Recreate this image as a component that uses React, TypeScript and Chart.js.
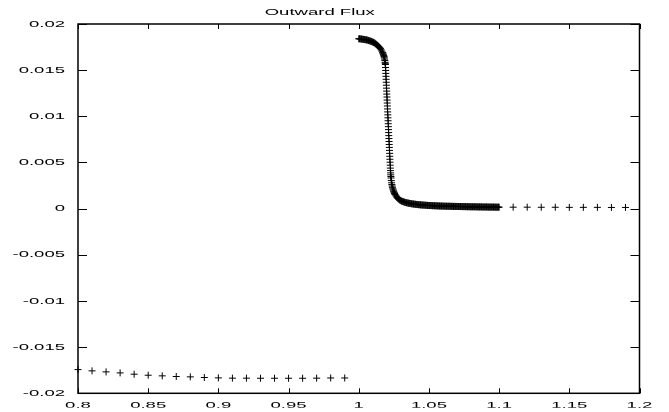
import { useEffect, useRef } from "react";
import { Chart, registerables } from "chart.js";

Chart.register(...registerables);

// ---- data ----
const leftX = [0.80, 0.81, 0.82, 0.83, 0.84, 0.85, 0.86, 0.87, 0.88, 0.89, 0.90, 0.91, 0.92, 0.93, 0.94, 0.95, 0.96, 0.97, 0.98, 0.99];
const leftY = [-0.01743, -0.01757, -0.01768, -0.01779, -0.01793, -0.01804, -0.01811, -0.01818, -0.01822, -0.01829, -0.01833, -0.01836, -0.01836, -0.01837, -0.01837, -0.01837, -0.01837, -0.01836, -0.01834, -0.01834];

const fluxTopX = [1.0000, 1.0005, 1.0010, 1.0015, 1.0020, 1.0025, 1.0030, 1.0035, 1.0040, 1.0045, 1.0050, 1.0055, 1.0060, 1.0065, 1.0070, 1.0075, 1.0080, 1.0085, 1.0090, 1.0095, 1.0100, 1.0105, 1.0110, 1.0115, 1.0120, 1.0125, 1.0130, 1.0135, 1.0140, 1.0145, 1.0150, 1.0155, 1.0160, 1.0165, 1.0170, 1.0172, 1.0175, 1.0178, 1.0180, 1.0182, 1.0184, 1.0186, 1.0188, 1.0189, 1.0190];
const fluxTopY = [0.01840, 0.01840, 0.01839, 0.01838, 0.01837, 0.01836, 0.01834, 0.01833, 0.01832, 0.01831, 0.01829, 0.01828, 0.01826, 0.01824, 0.01821, 0.01819, 0.01816, 0.01814, 0.01811, 0.01808, 0.01804, 0.01801, 0.01797, 0.01792, 0.01786, 0.01780, 0.01773, 0.01766, 0.01759, 0.01751, 0.01743, 0.01733, 0.01720, 0.01706, 0.01690, 0.01683, 0.01671, 0.01658, 0.01647, 0.01634, 0.01620, 0.01604, 0.01585, 0.01574, 0.01561];

const fluxDropX = [1.0191, 1.0192, 1.0193, 1.0194, 1.0195, 1.0196, 1.0197, 1.0198, 1.0199, 1.0200, 1.0201, 1.0202, 1.0203, 1.0204, 1.0205, 1.0206, 1.0207, 1.0208, 1.0209, 1.0210, 1.0211, 1.0212, 1.0213, 1.0214, 1.0215, 1.0216, 1.0217, 1.0218, 1.0219, 1.0220, 1.0221, 1.0222, 1.0223, 1.0224, 1.0225, 1.0226, 1.0227, 1.0228, 1.0229, 1.0230, 1.0232, 1.0234, 1.0236, 1.0238, 1.0240, 1.0243, 1.0245, 1.0248, 1.0250, 1.0253, 1.0255, 1.0258, 1.0260, 1.0265, 1.0270, 1.0275, 1.0280, 1.0285, 1.0290, 1.0295];
const fluxDropY = [0.01529, 0.01497, 0.01465, 0.01433, 0.01401, 0.01369, 0.01337, 0.01305, 0.01273, 0.01241, 0.01209, 0.01176, 0.01144, 0.01112, 0.01080, 0.01048, 0.01016, 0.00984, 0.00952, 0.00920, 0.00888, 0.00856, 0.00824, 0.00791, 0.00759, 0.00727, 0.00695, 0.00663, 0.00631, 0.00599, 0.00567, 0.00535, 0.00503, 0.00471, 0.00439, 0.00412, 0.00387, 0.00366, 0.00348, 0.00332, 0.00304, 0.00280, 0.00261, 0.00245, 0.00231, 0.00215, 0.00203, 0.00191, 0.00182, 0.00172, 0.00165, 0.00156, 0.00150, 0.00138, 0.00126, 0.00117, 0.00109, 0.00102, 0.00096, 0.00091];

const fluxTailAX = [1.0300, 1.0305, 1.0310, 1.0315, 1.0320, 1.0325, 1.0330, 1.0335, 1.0340, 1.0345, 1.0350, 1.0355, 1.0360, 1.0365, 1.0370, 1.0375, 1.0380, 1.0385, 1.0390, 1.0395, 1.0400, 1.0405, 1.0410, 1.0415, 1.0420, 1.0425, 1.0430, 1.0435, 1.0440, 1.0445, 1.0450, 1.0455, 1.0460, 1.0465, 1.0470, 1.0475, 1.0480, 1.0485, 1.0490, 1.0495, 1.0500];
const fluxTailAY = [0.00086, 0.00082, 0.00079, 0.00076, 0.00074, 0.00071, 0.00068, 0.00066, 0.00064, 0.00062, 0.00061, 0.00059, 0.00058, 0.00056, 0.00055, 0.00053, 0.00052, 0.00051, 0.00050, 0.00049, 0.00048, 0.00047, 0.00046, 0.00045, 0.00044, 0.00043, 0.00043, 0.00042, 0.00041, 0.00040, 0.00040, 0.00039, 0.00039, 0.00038, 0.00038, 0.00037, 0.00036, 0.00036, 0.00035, 0.00035, 0.00034];

const fluxTailBX = [1.0505, 1.0510, 1.0515, 1.0520, 1.0525, 1.0530, 1.0535, 1.0540, 1.0545, 1.0550, 1.0555, 1.0560, 1.0565, 1.0570, 1.0575, 1.0580, 1.0585, 1.0590, 1.0595, 1.0600, 1.0605, 1.0610, 1.0615, 1.0620, 1.0625, 1.0630, 1.0635, 1.0640, 1.0645, 1.0650, 1.0655, 1.0660, 1.0665, 1.0670, 1.0675, 1.0680, 1.0685, 1.0690, 1.0695, 1.0700, 1.0705, 1.0710, 1.0715, 1.0720, 1.0725, 1.0730, 1.0735, 1.0740, 1.0745, 1.0750, 1.0755, 1.0760, 1.0765, 1.0770, 1.0775, 1.0780, 1.0785, 1.0790, 1.0795, 1.0800];
const fluxTailBY = [0.00034, 0.00034, 0.00033, 0.00033, 0.00032, 0.00032, 0.00032, 0.00031, 0.00031, 0.00031, 0.00030, 0.00030, 0.00030, 0.00029, 0.00029, 0.00029, 0.00028, 0.00028, 0.00028, 0.00028, 0.00027, 0.00027, 0.00027, 0.00027, 0.00026, 0.00026, 0.00026, 0.00026, 0.00026, 0.00026, 0.00025, 0.00025, 0.00025, 0.00025, 0.00024, 0.00024, 0.00024, 0.00024, 0.00024, 0.00024, 0.00023, 0.00023, 0.00023, 0.00023, 0.00023, 0.00023, 0.00022, 0.00022, 0.00022, 0.00022, 0.00022, 0.00022, 0.00021, 0.00021, 0.00021, 0.00021, 0.00021, 0.00021, 0.00020, 0.00020];

const fluxTailCX = [1.0805, 1.0810, 1.0815, 1.0820, 1.0825, 1.0830, 1.0835, 1.0840, 1.0845, 1.0850, 1.0855, 1.0860, 1.0865, 1.0870, 1.0875, 1.0880, 1.0885, 1.0890, 1.0895, 1.0900, 1.0905, 1.0910, 1.0915, 1.0920, 1.0925, 1.0930, 1.0935, 1.0940, 1.0945, 1.0950, 1.0955, 1.0960, 1.0965, 1.0970, 1.0975, 1.0980, 1.0985, 1.0990, 1.0995, 1.1000];
const fluxTailCY = [0.00020, 0.00020, 0.00020, 0.00020, 0.00020, 0.00020, 0.00020, 0.00019, 0.00019, 0.00019, 0.00019, 0.00019, 0.00019, 0.00019, 0.00019, 0.00018, 0.00018, 0.00018, 0.00018, 0.00018, 0.00018, 0.00018, 0.00018, 0.00017, 0.00017, 0.00017, 0.00017, 0.00017, 0.00017, 0.00017, 0.00017, 0.00017, 0.00017, 0.00016, 0.00016, 0.00016, 0.00016, 0.00016, 0.00016, 0.00016];

const rightX = [1.11, 1.12, 1.13, 1.14, 1.15, 1.16, 1.17, 1.18, 1.19];
const rightY = [0.00016, 0.00016, 0.00015, 0.00015, 0.00014, 0.00014, 0.00014, 0.00013, 0.00013];

const xTicks = [0.8, 0.85, 0.9, 0.95, 1.0, 1.05, 1.1, 1.15, 1.2];
const xTickLabels = ["0.8", "0.85", "0.9", "0.95", "1", "1.05", "1.1", "1.15", "1.2"];
const yTicks = [-0.02, -0.015, -0.01, -0.005, 0, 0.005, 0.01, 0.015, 0.02];
const yTickLabels = ["-0.02", "-0.015", "-0.01", "-0.005", "0", "0.005", "0.01", "0.015", "0.02"];

const title = "Outward Flux";

const FONT = "'Liberation Sans', Arial, Helvetica, sans-serif";
const TEXT_STRETCH = 1.95;

function pairs(xs: number[], ys: number[]) {
  return xs.map((x, i) => ({ x, y: ys[i] }));
}

// the reference's lettering is drawn wide; stretch glyphs horizontally about their anchor
const stretchTextPlugin = {
  id: "stretchText",
  beforeDraw(chart: any) {
    const ctx: any = chart.ctx;
    if (ctx.__stretched) return;
    ctx.__stretched = true;
    const orig = ctx.fillText.bind(ctx);
    ctx.fillText = (text: string, x: number, y: number, maxWidth?: number) => {
      ctx.save();
      ctx.translate(x, y);
      ctx.scale(TEXT_STRETCH, 1);
      if (maxWidth === undefined) orig(text, 0, 0);
      else orig(text, 0, 0, maxWidth / TEXT_STRETCH);
      ctx.restore();
    };
  },
};

const framePlugin = {
  id: "gnuframe",
  afterDraw(chart: any) {
    const { ctx, chartArea: a, scales } = chart;
    ctx.save();
    ctx.strokeStyle = "#000";
    ctx.lineWidth = 1;
    ctx.beginPath();
    for (const v of xTicks) {
      const p = Math.round(scales.x.getPixelForValue(v)) + 0.5;
      ctx.moveTo(p, a.bottom);
      ctx.lineTo(p, a.bottom - 5);
      ctx.moveTo(p, a.top);
      ctx.lineTo(p, a.top + 5);
    }
    for (const v of yTicks) {
      const p = Math.round(scales.y.getPixelForValue(v)) + 0.5;
      ctx.moveTo(a.left, p);
      ctx.lineTo(a.left + 9, p);
      ctx.moveTo(a.right, p);
      ctx.lineTo(a.right - 9, p);
    }
    ctx.stroke();
    ctx.lineWidth = 1.5;
    ctx.strokeRect(a.left, a.top, a.right - a.left, a.bottom - a.top);
    ctx.restore();
  },
};

export default function App() {
  const ref = useRef<HTMLCanvasElement | null>(null);

  useEffect(() => {
    document.body.style.margin = "0";
    const canvas = ref.current;
    if (!canvas) return;
    const data = [
      ...pairs(leftX, leftY),
      ...pairs(fluxTopX, fluxTopY),
      ...pairs(fluxDropX, fluxDropY),
      ...pairs(fluxTailAX, fluxTailAY),
      ...pairs(fluxTailBX, fluxTailBY),
      ...pairs(fluxTailCX, fluxTailCY),
      ...pairs(rightX, rightY),
    ];
    const chart = new Chart(canvas, {
      type: "scatter",
      data: {
        datasets: [
          {
            label: "flux",
            data,
            pointStyle: "cross",
            pointRadius: 3.5,
            pointBorderWidth: 1,
            borderColor: "#000",
            backgroundColor: "#000",
            showLine: false,
            clip: false as any,
          },
        ],
      },
      options: {
        responsive: false,
        animation: false,
        events: [],
        layout: { padding: { left: 0, right: 29.5, top: 0, bottom: 0 } },
        plugins: {
          legend: { display: false },
          tooltip: { enabled: false },
          title: {
            display: true,
            text: title,
            color: "#000",
            font: { family: FONT, size: 9.5, weight: "normal" as any },
            padding: { top: 7, bottom: 5.6 },
          },
        },
        scales: {
          x: {
            type: "linear",
            min: 0.8,
            max: 1.2,
            grid: { display: false, drawTicks: false },
            border: { display: false },
            afterBuildTicks: (s: any) => {
              s.ticks = xTicks.map((v) => ({ value: v }));
            },
            afterFit: (s: any) => {
              s.height = 14.5;
            },
            ticks: {
              color: "#000",
              padding: 6,
              maxRotation: 0,
              autoSkip: false,
              font: { family: FONT, size: 9.5 },
              callback: (_v: any, i: number) => xTickLabels[i],
            },
          },
          y: {
            type: "linear",
            min: -0.02,
            max: 0.02,
            grid: { display: false, drawTicks: false },
            border: { display: false },
            afterBuildTicks: (s: any) => {
              s.ticks = yTicks.map((v) => ({ value: v }));
            },
            afterFit: (s: any) => {
              s.width = 78;
            },
            ticks: {
              color: "#000",
              padding: 13,
              autoSkip: false,
              font: { family: FONT, size: 9.5 },
              callback: (_v: any, i: number) => yTickLabels[i],
            },
          },
        },
      },
      plugins: [stretchTextPlugin, framePlugin],
    });
    return () => chart.destroy();
  }, []);

  return (
    <div style={{ width: 669, height: 412, background: "#fff" }}>
      <canvas ref={ref} width={669} height={412} style={{ display: "block" }} />
    </div>
  );
}
